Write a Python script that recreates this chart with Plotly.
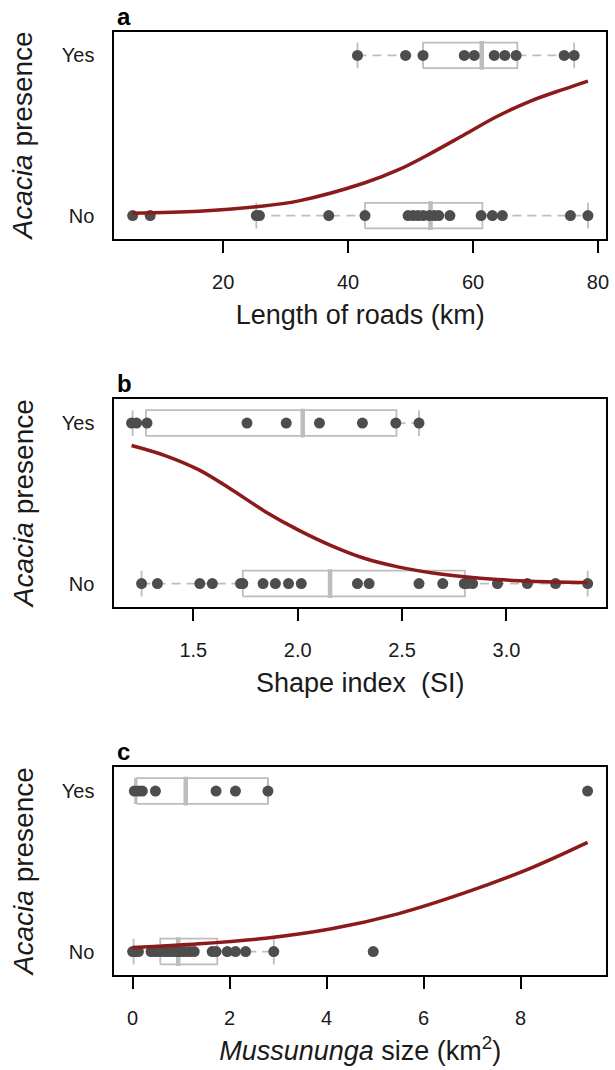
import plotly.graph_objects as go

# ---------------- data ----------------
# Panel a: length of roads (km)
roads_no = [5.5, 8.3, 25.3, 25.8, 36.9, 42.7, 49.6, 50.4, 51.2, 52.0, 53.0,
            53.8, 54.5, 56.3, 61.3, 63.1, 64.7, 75.6, 78.4]
roads_yes = [41.5, 49.2, 52.0, 58.6, 60.2, 63.4, 65.1, 66.9, 74.6, 76.2]
# box statistics: lower whisker, Q1, median, Q3, upper whisker
roads_box_no = [25.3, 42.7, 53.2, 61.5, 78.4]
roads_box_yes = [41.5, 52.0, 61.4, 67.1, 76.2]
roads_curve_x = [5.5, 16.1, 25.3, 32.1, 42.7, 48.0, 53.3, 58.6, 63.9, 69.2, 74.6, 78.4]
roads_curve_p = [0.015, 0.027, 0.055, 0.092, 0.205, 0.285, 0.39, 0.505, 0.62, 0.715, 0.79, 0.84]

# Panel b: shape index (SI)
si_no = [1.252, 1.328, 1.531, 1.591, 1.726, 1.737, 1.834, 1.893, 1.956, 2.017,
         2.286, 2.342, 2.581, 2.695, 2.798, 2.811, 2.838, 2.957, 3.100, 3.235, 3.389]
si_yes = [1.204, 1.228, 1.278, 1.757, 1.945, 2.104, 2.310, 2.470, 2.581]
si_box_no = [1.252, 1.737, 2.155, 2.801, 3.389]
si_box_yes = [1.209, 1.273, 2.024, 2.473, 2.581]
si_curve_x = [1.204, 1.368, 1.527, 1.686, 1.845, 2.004, 2.163, 2.322, 2.480,
              2.639, 2.798, 2.957, 3.117, 3.389]
si_curve_p = [0.86, 0.796, 0.708, 0.583, 0.448, 0.333, 0.235, 0.156, 0.104,
              0.067, 0.042, 0.025, 0.015, 0.006]

# Panel c: Mussununga size (km2)
size_no = [0.0, 0.05, 0.12, 0.38, 0.45, 0.52, 0.60, 0.68, 0.75, 0.82, 0.90, 0.96,
           1.03, 1.10, 1.18, 1.27, 1.64, 1.72, 1.95, 2.12, 2.33, 2.91, 4.96]
size_yes = [0.035, 0.12, 0.20, 0.47, 1.72, 2.12, 2.79, 9.38]
size_box_no = [0.02, 0.57, 0.94, 1.745, 2.91]
size_box_yes = [0.05, 0.08, 1.095, 2.79, 2.79]
size_curve_x = [0.0, 1.37, 2.74, 4.10, 5.47, 6.84, 8.21, 9.38]
size_curve_p = [0.025, 0.048, 0.083, 0.142, 0.235, 0.365, 0.52, 0.68]

group_ticks = [0, 1]
group_labels = ["No", "Yes"]

# ---------------- styling ----------------
FONT = "Liberation Sans, Arial, sans-serif"
BOX_COL = "#BDBDBD"
DOT_COL = "#4D4D4D"
CURVE_COL = "#8B1A1A"
HALF = 0.08   # half height of the boxes (probability units)

W, H = 615, 1070
X0, X1 = 115, 609
panels_px = [(31.7, 239.3), (399.3, 607.3), (767.3, 975.3)]

fig = go.Figure()


def add_box(stats, g, xa, ya):
    lw, q1, med, q3, uw = stats
    common = dict(xaxis=xa, yaxis=ya, mode="lines", showlegend=False,
                  hoverinfo="skip")
    fig.add_trace(go.Scatter(x=[lw, q1, None, q3, uw], y=[g, g, None, g, g],
                             line=dict(color=BOX_COL, width=1.8, dash="9px,6px"),
                             **common))
    fig.add_trace(go.Scatter(x=[lw, lw, None, uw, uw],
                             y=[g - HALF, g + HALF, None, g - HALF, g + HALF],
                             line=dict(color=BOX_COL, width=1.8), **common))
    fig.add_trace(go.Scatter(x=[q1, q3, q3, q1, q1],
                             y=[g - HALF, g - HALF, g + HALF, g + HALF, g - HALF],
                             line=dict(color=BOX_COL, width=1.8), **common))
    fig.add_trace(go.Scatter(x=[med, med], y=[g - HALF * 1.12, g + HALF * 1.12],
                             line=dict(color=BOX_COL, width=4.5), **common))


panels = [
    (roads_no, roads_yes, roads_box_no, roads_box_yes, roads_curve_x, roads_curve_p),
    (si_no, si_yes, si_box_no, si_box_yes, si_curve_x, si_curve_p),
    (size_no, size_yes, size_box_no, size_box_yes, size_curve_x, size_curve_p),
]

for i, (xno, xyes, bno, byes, cx, cp) in enumerate(panels):
    xa = "x" if i == 0 else f"x{i+1}"
    ya = "y" if i == 0 else f"y{i+1}"
    add_box(bno, group_ticks[0], xa, ya)
    add_box(byes, group_ticks[1], xa, ya)
    fig.add_trace(go.Scatter(x=xno, y=[group_ticks[0]] * len(xno), mode="markers",
                             marker=dict(color=DOT_COL, size=11),
                             xaxis=xa, yaxis=ya, showlegend=False))
    fig.add_trace(go.Scatter(x=xyes, y=[group_ticks[1]] * len(xyes), mode="markers",
                             marker=dict(color=DOT_COL, size=11),
                             xaxis=xa, yaxis=ya, showlegend=False))
    fig.add_trace(go.Scatter(x=cx, y=cp, mode="lines",
                             line=dict(color=CURVE_COL, width=3.5, shape="spline"),
                             xaxis=xa, yaxis=ya, showlegend=False))

x_titles = ["Length of roads (km)", "Shape index\u00a0\u00a0(SI)",
            "<i>Mussununga</i> size (km<sup>2</sup>)"]
x_ranges = [[2.58, 81.3], [1.122, 3.477], [-0.375, 9.76]]
x_tickvals = [[20, 40, 60, 80], [1.5, 2.0, 2.5, 3.0], [0, 2, 4, 6, 8]]
x_ticktext = [["20", "40", "60", "80"], ["1.5", "2.0", "2.5", "3.0"],
              ["0", "2", "4", "6", "8"]]
letters = ["a", "b", "c"]

layout = dict(width=W, height=H, autosize=False,
              margin=dict(l=0, r=0, t=0, b=0),
              paper_bgcolor="white", plot_bgcolor="white",
              font=dict(family=FONT, color="#1a1a1a"))
annotations = []
for i in range(3):
    top, bot = panels_px[i]
    xkey = "xaxis" if i == 0 else f"xaxis{i+1}"
    ykey = "yaxis" if i == 0 else f"yaxis{i+1}"
    ya = "y" if i == 0 else f"y{i+1}"
    xa = "x" if i == 0 else f"x{i+1}"
    layout[xkey] = dict(domain=[X0 / W, X1 / W], range=x_ranges[i], anchor=ya,
                        tickvals=x_tickvals[i], ticktext=x_ticktext[i],
                        ticks="outside", ticklen=12, tickwidth=2, tickcolor="black",
                        showline=True, linecolor="black", linewidth=2, mirror=True,
                        showgrid=False, zeroline=False, ticklabelstandoff=12,
                        tickfont=dict(size=20),
                        title=dict(text=x_titles[i], font=dict(size=27), standoff=13))
    layout[ykey] = dict(domain=[1 - bot / H, 1 - top / H], range=[-0.148, 1.148],
                        anchor=xa, tickvals=group_ticks, ticktext=group_labels,
                        ticks="", showline=True, linecolor="black", linewidth=2,
                        mirror=True, showgrid=False, zeroline=False,
                        ticklabelstandoff=14, tickfont=dict(size=20))
    annotations.append(dict(text="<b>" + letters[i] + "</b>", xref="paper", yref="paper",
                            x=(X0 + 1) / W, y=1 - top / H, xanchor="left",
                            yanchor="bottom", showarrow=False,
                            font=dict(size=24, color="black")))
    annotations.append(dict(text="<i>Acacia</i> presence", xref="paper", yref="paper",
                            x=23 / W, y=1 - (top + bot) / 2 / H, xanchor="center",
                            yanchor="middle", textangle=-90, showarrow=False,
                            font=dict(size=28)))
layout["annotations"] = annotations
fig.update_layout(**layout)
fig.write_html("out.html", config={"displayModeBar": False},
               post_script="document.body.style.margin='0';"
                           "document.body.style.overflow='hidden';")
